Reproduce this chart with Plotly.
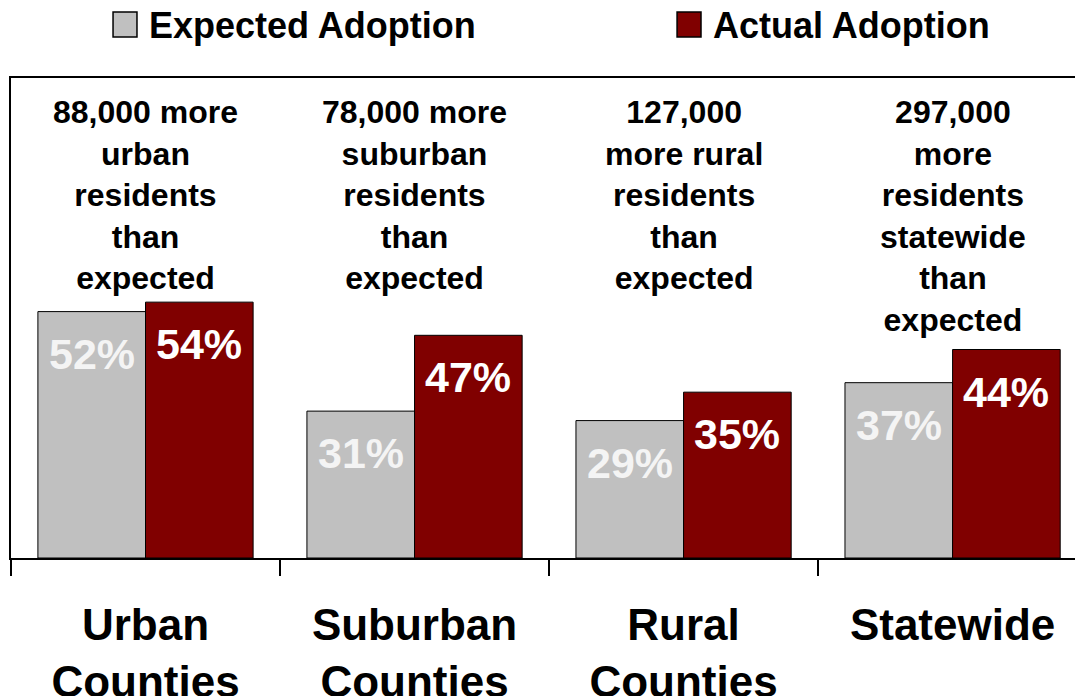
import plotly.graph_objects as go

categories = ["Urban Counties", "Suburban Counties", "Rural Counties", "Statewide"]
tick_labels = ["Urban<br>Counties", "Suburban<br>Counties", "Rural<br>Counties", "Statewide"]
expected = [52, 31, 29, 37]
actual = [54, 47, 35, 44]
notes = [
    "88,000 more<br>urban<br>residents<br>than<br>expected",
    "78,000 more<br>suburban<br>residents<br>than<br>expected",
    "127,000<br>more rural<br>residents<br>than<br>expected",
    "297,000<br>more<br>residents<br>statewide<br>than<br>expected",
]
series_names = ["Expected Adoption", "Actual Adoption"]

FONT = "Liberation Sans, Arial, Helvetica, sans-serif"
GRAY = "#C0C0C0"
MAROON = "#800000"

fig = go.Figure()
fig.add_trace(go.Bar(x=categories, y=expected, name=series_names[0],
                     marker=dict(color=GRAY, line=dict(color="black", width=1)),
                     showlegend=False, hoverinfo="skip"))
fig.add_trace(go.Bar(x=categories, y=actual, name=series_names[1],
                     marker=dict(color=MAROON, line=dict(color="black", width=1)),
                     showlegend=False, hoverinfo="skip"))

annotations = []
for i, (e, a) in enumerate(zip(expected, actual)):
    annotations.append(dict(x=i - 0.2, y=e, xref="x", yref="y", text=f"{e}%",
                            showarrow=False, yanchor="middle", yshift=-42,
                            font=dict(family=FONT, size=43, color="#F4F4F4", weight="bold")))
    annotations.append(dict(x=i + 0.2, y=a, xref="x", yref="y", text=f"{a}%",
                            showarrow=False, yanchor="middle", yshift=-42,
                            font=dict(family=FONT, size=43, color="white", weight="bold")))
    annotations.append(dict(x=i, y=98.3, xref="x", yref="y", text=notes[i],
                            showarrow=False, yanchor="top", xanchor="center",
                            font=dict(family=FONT, size=32, color="black", weight="bold")))

# manual legend
legend_items = [(series_names[0], GRAY, 0.0959), (series_names[1], MAROON, 0.626)]
shapes = []
for name, col, x0 in legend_items:
    shapes.append(dict(type="rect", xref="paper", yref="paper",
                       x0=x0, x1=x0 + 0.0225, y0=1.0854, y1=1.1375,
                       fillcolor=col, line=dict(color="black", width=1.5)))
    annotations.append(dict(x=x0 + 0.0319, y=1.1104, xref="paper", yref="paper",
                            text=name, showarrow=False, xanchor="left", yanchor="middle",
                            font=dict(family=FONT, size=36, color="black", weight="bold")))

fig.update_layout(
    width=1075, height=696,
    margin=dict(l=11, r=0, t=78, b=138),
    paper_bgcolor="white", plot_bgcolor="white",
    barmode="group", bargap=0.2, bargroupgap=0,
    annotations=annotations, shapes=shapes,
    showlegend=False,
)
fig.update_xaxes(
    type="category", range=[-0.5, 3.455], automargin=False,
    tickvals=categories, ticktext=tick_labels,
    tickson="boundaries", ticks="outside", ticklen=16, tickwidth=2, tickcolor="black",
    showline=True, linecolor="black", linewidth=2, mirror=True,
    showgrid=False, ticklabelstandoff=27,
    tickfont=dict(family=FONT, size=44, color="black", weight="bold"),
)
fig.update_yaxes(
    range=[0, 101.3], showticklabels=False, showgrid=False, zeroline=False,
    automargin=False,
    showline=True, linecolor="black", linewidth=2, ticks="",
)

fig.write_html(
    "out.html",
    config={"displayModeBar": False, "staticPlot": True},
    post_script="document.body.style.margin='0';document.body.style.overflow='hidden';",
)
